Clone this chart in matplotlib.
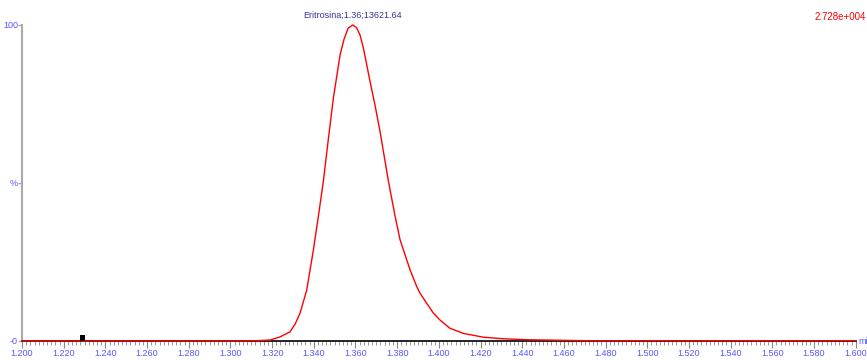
import numpy as np
import matplotlib
matplotlib.use('Agg')
import matplotlib.pyplot as plt
from matplotlib.ticker import MultipleLocator

# chromatogram trace (time in min, intensity in %)
t = [1.200, 1.250, 1.300, 1.312, 1.319, 1.3238, 1.3286, 1.3310, 1.3334, 1.3366,
     1.3398, 1.3422, 1.3446, 1.3470, 1.3494, 1.3526, 1.3545, 1.3565, 1.3587,
     1.3605, 1.3622, 1.3638, 1.3670, 1.3694, 1.3718, 1.3758, 1.3790, 1.3814,
     1.3862, 1.3894, 1.3910, 1.3942, 1.3974, 1.4006, 1.4054, 1.4118, 1.4214,
     1.4310, 1.4422, 1.4710, 1.5200, 1.6000]
pct = [0.0, 0.0, 0.0, 0.1, 0.3, 1.3, 2.9, 5.3, 8.8, 16.1,
       28.8, 39.5, 50.6, 64.0, 76.9, 90.5, 95.5, 99.0, 100.0,
       99.2, 96.8, 92.7, 82.1, 74.5, 66.2, 50.6, 39.5, 32.0,
       22.5, 17.2, 15.1, 11.9, 8.8, 6.6, 4.0, 2.4, 1.2,
       0.7, 0.4, 0.1, 0.1, 0.1]

peak_label = "Eritrosina;1.36;13621.64"
peak_time = 1.3587
scale_label = "2.728e+004"

# small black baseline marker near 1.229 min
marker_t = 1.2292
marker_h = 2.0

xticks = np.arange(1.2, 1.6001, 0.02)
xlabels = [f"{v:.3f}" for v in xticks]

plt.rcParams['font.family'] = 'Liberation Sans'
tick_col = '#5555ff'

fig = plt.figure(figsize=(8.67, 3.6), dpi=100)
ax = fig.add_axes([22/867, 19/360, 833.7/867, 316/360])
ax.plot(t, pct, color='red', lw=1.0, clip_on=False, zorder=3)
ax.bar([marker_t], [marker_h], width=0.0024, color='black', zorder=4)

ax.set_xlim(1.2, 1.6)
ax.set_ylim(0, 100)
ax.spines['top'].set_visible(False)
ax.spines['right'].set_visible(False)
ax.spines['left'].set_color('#aaaaaa')
ax.spines['left'].set_linewidth(1.5)
ax.spines['bottom'].set_color('black')
ax.spines['bottom'].set_linewidth(1.2)

ax.set_xticks(xticks)
ax.set_xticklabels(xlabels)
ax.xaxis.set_minor_locator(MultipleLocator(0.002))
ax.tick_params(axis='x', which='major', length=5, width=0.8, color='#888888',
               labelsize=6.5, labelcolor=tick_col, pad=1)
ax.tick_params(axis='x', which='minor', length=3, width=0.6, color='#888888')

ax.set_yticks([0, 50, 100])
ax.set_yticklabels(['-0', '%', '100'])
ax.tick_params(axis='y', length=3, width=1, color='#aaaaaa',
               labelsize=6.5, labelcolor=tick_col, pad=0)

ax.text(1.6015, 0, 'min', color=tick_col, fontsize=6.5, va='center', ha='left',
        clip_on=False)
ax.text(peak_time, 101.5, peak_label, color='#333399', fontsize=6.5,
        ha='center', va='bottom')
fig.text(866/867, 1 - 17/360, scale_label, color='red', fontsize=7,
         ha='right', va='center')

fig.savefig('out.png', dpi=100)
